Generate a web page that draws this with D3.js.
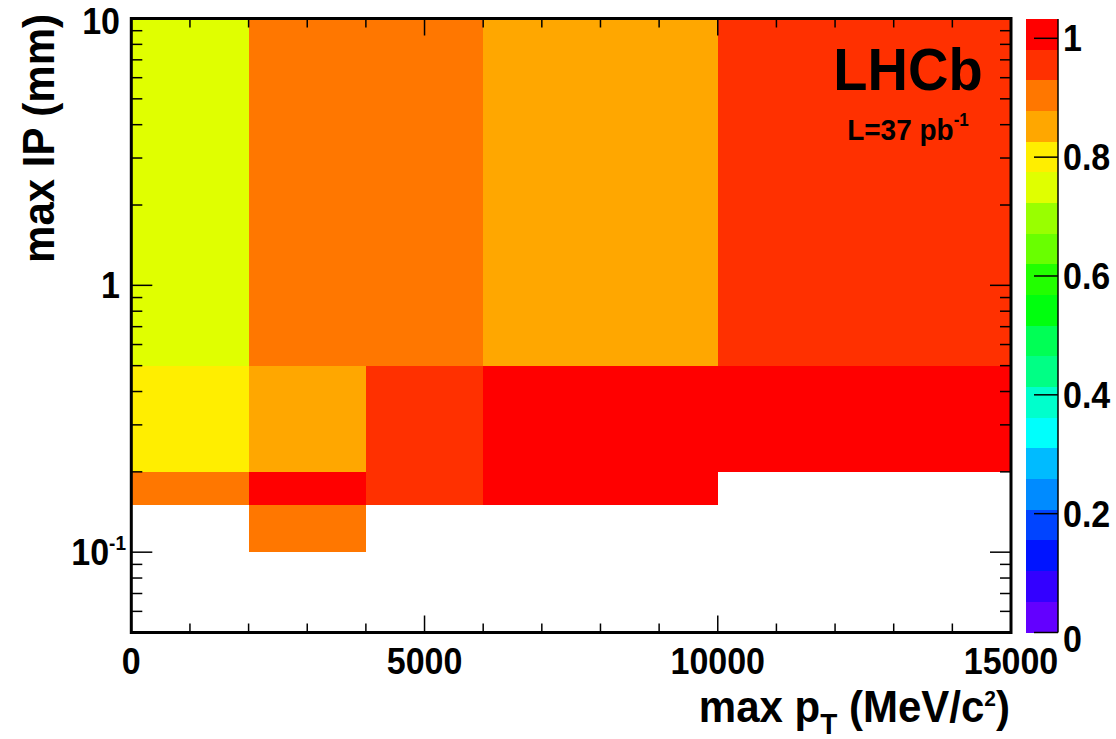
<!DOCTYPE html>
<html><head><meta charset="utf-8">
<script src="https://cdn.jsdelivr.net/npm/d3@7"></script>
<style>
body{margin:0;background:#fff}
text{font-family:"Liberation Sans",Arial,Helvetica,sans-serif;font-weight:bold;fill:#000}
</style>
</head><body>
<svg id="c" width="1116" height="739"></svg>
<script>
// ---- data ----
const xEdges = [0, 2000, 4000, 6000, 10000, 15000];
const yEdges = [0.1, 0.15, 0.2, 0.5, 10];
// rows bottom -> top, columns left -> right (null = empty bin)
const row0 = [null, 0.91, null, null, null];
const row1 = [0.91, 1.00, 0.96, 1.00, null];
const row2 = [0.81, 0.86, 0.96, 1.00, 1.00];
const row3 = [0.76, 0.91, 0.91, 0.86, 0.96];
const rows = [row0, row1, row2, row3];
const xTicks = [0, 5000, 10000, 15000];
const xMinor = [1000,2000,3000,4000,6000,7000,8000,9000,11000,12000,13000,14000];
const yMajor = [0.1, 1, 10];
const yMinor = [0.06,0.07,0.08,0.09,0.2,0.3,0.4,0.5,0.6,0.7,0.8,0.9,2,3,4,5,6,7,8,9];
const zTicks = [0, 0.2, 0.4, 0.6, 0.8, 1];
const zMax = 1.0325;
const palette = ["#6300ff","#3300ff","#0014ff","#0044ff","#008bff","#00bbff","#00fffc","#00ffcc","#00ff85","#00ff55",
                 "#00ff0e","#22ff00","#69ff00","#99ff00","#e0ff00","#ffee00","#ffa700","#ff7700","#ff3000","#ff0000"];

// ---- layout ----
const L = 131.3, R = 1011, T = 18.5, B = 632.5;
const SY = 1.07;
const svg = d3.select("#c");
const x = d3.scaleLinear().domain([0, 15000]).range([L, R]);
const y = d3.scaleLog().domain([0.05, 10]).range([B, T]);
const z = d3.scaleLinear().domain([0, zMax]).range([B, 19]);
const nC = palette.length;
const colorOf = v => palette[Math.max(0, Math.min(nC - 1, Math.floor(v / zMax * nC)))];

// cells
const cells = [];
rows.forEach((r, j) => r.forEach((v, i) => {
  if (v !== null) cells.push({x0: xEdges[i], x1: xEdges[i+1], y0: yEdges[j], y1: yEdges[j+1], v});
}));
svg.append("g").selectAll("rect").data(cells).join("rect")
  .attr("x", d => x(d.x0)).attr("width", d => x(d.x1) - x(d.x0))
  .attr("y", d => y(d.y1)).attr("height", d => y(d.y0) - y(d.y1))
  .attr("fill", d => colorOf(d.v)).attr("shape-rendering", "crispEdges");

// ticks
const tk = svg.append("g").attr("stroke", "#000").attr("stroke-width", 1.5);
xTicks.forEach(t => { tk.append("line").attr("x1", x(t)).attr("x2", x(t)).attr("y1", B).attr("y2", B - 17);
                      tk.append("line").attr("x1", x(t)).attr("x2", x(t)).attr("y1", T).attr("y2", T + 17); });
xMinor.forEach(t => { tk.append("line").attr("x1", x(t)).attr("x2", x(t)).attr("y1", B).attr("y2", B - 9);
                      tk.append("line").attr("x1", x(t)).attr("x2", x(t)).attr("y1", T).attr("y2", T + 9); });
yMajor.forEach(t => { tk.append("line").attr("y1", y(t)).attr("y2", y(t)).attr("x1", L).attr("x2", L + 21);
                      tk.append("line").attr("y1", y(t)).attr("y2", y(t)).attr("x1", R).attr("x2", R - 21); });
yMinor.forEach(t => { tk.append("line").attr("y1", y(t)).attr("y2", y(t)).attr("x1", L).attr("x2", L + 11);
                      tk.append("line").attr("y1", y(t)).attr("y2", y(t)).attr("x1", R).attr("x2", R - 11); });

// frame
svg.append("rect").attr("x", L).attr("y", T).attr("width", R - L).attr("height", B - T)
  .attr("fill", "none").attr("stroke", "#000").attr("stroke-width", 3);

function txt(px, py, s, size, anchor, rot) {
  const t = svg.append("text").attr("font-size", size).attr("text-anchor", anchor || "start")
    .attr("transform", `translate(${px},${py})` + (rot ? ` rotate(${rot})` : "") + ` scale(1,${SY})`);
  if (s !== null) t.text(s);
  return t;
}

// x tick labels
xTicks.forEach(t => txt(x(t), 674, d3.format("d")(t), 34, "middle"));
// y tick labels
yMajor.forEach(t => {
  const yy = y(t) + 13;
  if (t === 0.1) {
    const e = txt(126, yy, null, 34, "end");
    e.append("tspan").text("10");
    e.append("tspan").attr("font-size", 19).attr("dy", -14).text("-1");
  } else {
    txt(120, t === 10 ? yy + 2 : yy, String(t), 34, "end");
  }
});

// axis titles
const xt = txt(1010, 722, null, 42, "end");
xt.append("tspan").text("max p");
xt.append("tspan").attr("font-size", 28).attr("dy", 11).text("T");
xt.append("tspan").attr("dy", -11).text(" (MeV/c");
xt.append("tspan").attr("font-size", 21).attr("dy", -15).text("2");
xt.append("tspan").attr("dy", 15).text(")");
txt(54, 14, "max IP (mm)", 42, "end", -90);

// LHCb label
txt(908, 90, "LHCb", 56, "middle");
const lum = txt(908, 140, null, 28, "middle");
lum.append("tspan").text("L=37 pb");
lum.append("tspan").attr("font-size", 17).attr("dy", -13).text("-1");

// colour bar
const cbL = 1026, cbR = 1058;
const bands = palette.map((c, i) => ({c, lo: i * zMax / nC, hi: (i + 1) * zMax / nC}));
svg.append("g").selectAll("rect").data(bands).join("rect")
  .attr("x", cbL).attr("width", cbR - cbL)
  .attr("y", d => z(d.hi)).attr("height", d => z(d.lo) - z(d.hi))
  .attr("fill", d => d.c).attr("shape-rendering", "crispEdges");
const cb = svg.append("g").attr("stroke", "#000").attr("stroke-width", 1.5);
cb.append("line").attr("x1", cbR).attr("x2", cbR).attr("y1", z(0)).attr("y2", z(zMax));
zTicks.forEach(t => cb.append("line").attr("x1", cbR).attr("x2", cbR - 24).attr("y1", z(t)).attr("y2", z(t)));
zTicks.forEach(t => txt(1063, (t === 0 ? z(t) + 6 : z(t)) + 13, d3.format("~g")(t), 34, "start"));
</script>
</body></html>
